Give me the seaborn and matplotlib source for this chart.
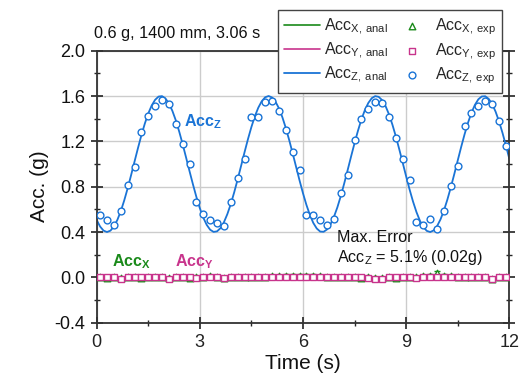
import matplotlib
matplotlib.use("Agg")
import matplotlib.pyplot as plt
import seaborn as sns
import pandas as pd

t_anal = [round(0.1 * i, 1) for i in range(121)]
acc_z_anal = [0.506, 0.448, 0.412, 0.400, 0.412, 0.448, 0.506, 0.583, 0.678, 0.785,
              0.901, 1.021, 1.140, 1.254, 1.357, 1.446, 1.517, 1.567, 1.595, 1.599,
              1.578, 1.535, 1.470, 1.386, 1.286, 1.175, 1.057, 0.937, 0.820, 0.709,
              0.610, 0.527, 0.463, 0.420, 0.401, 0.406, 0.434, 0.486, 0.558, 0.647,
              0.751, 0.865, 0.984, 1.104, 1.220, 1.327, 1.421, 1.497, 1.554, 1.589,
              1.600, 1.587, 1.550, 1.492, 1.413, 1.318, 1.210, 1.094, 0.974, 0.855,
              0.742, 0.639, 0.551, 0.480, 0.431, 0.404, 0.402, 0.423, 0.468, 0.534,
              0.618, 0.718, 0.830, 0.948, 1.068, 1.185, 1.295, 1.394, 1.476, 1.539,
              1.581, 1.599, 1.593, 1.564, 1.512, 1.439, 1.348, 1.244, 1.130, 1.011,
              0.891, 0.775, 0.669, 0.576, 0.500, 0.444, 0.410, 0.400, 0.414, 0.452,
              0.512, 0.591, 0.687, 0.795, 0.911, 1.031, 1.150, 1.263, 1.365, 1.453,
              1.522, 1.571, 1.596, 1.598, 1.575, 1.530, 1.463, 1.378, 1.277, 1.165,
              1.047]
acc_x_anal = [0.0] * 121
acc_y_anal = [0.0] * 121

# experimental points every 0.2 s
t_exp = [round(0.1 + 0.2 * i, 1) for i in range(60)]
acc_z_exp = [0.547, 0.506, 0.459, 0.589, 0.812, 0.977, 1.283, 1.424, 1.513, 1.568,
             1.527, 1.357, 1.177, 0.997, 0.662, 0.559, 0.503, 0.483, 0.450, 0.662,
             0.877, 1.048, 1.418, 1.418, 1.548, 1.560, 1.469, 1.297, 1.107, 0.944,
             0.553, 0.553, 0.506, 0.459, 0.512, 0.748, 0.900, 1.213, 1.401, 1.486,
             1.548, 1.542, 1.416, 1.230, 1.042, 0.856, 0.489, 0.465, 0.512, 0.430,
             0.589, 0.803, 0.980, 1.339, 1.451, 1.513, 1.560, 1.527, 1.380, 1.160]
acc_x_exp = [0.000, -0.005, 0.000, -0.010, 0.005, 0.000, -0.005, 0.000, 0.005, 0.000,
             -0.010, 0.000, 0.005, -0.005, 0.000, 0.005, 0.010, 0.000, -0.005, 0.000,
             0.005, 0.000, 0.000, 0.005, 0.000, 0.010, 0.010, 0.015, 0.015, 0.015,
             0.015, 0.015, 0.010, 0.005, 0.000, 0.000, 0.005, 0.000, -0.005, 0.000,
             -0.010, -0.010, 0.000, -0.005, 0.000, 0.005, 0.000, 0.010, 0.015, 0.040,
             0.015, 0.010, 0.005, 0.000, 0.005, 0.000, 0.000, -0.015, 0.000, 0.005]
acc_y_exp = [0.000, 0.000, 0.000, -0.015, 0.000, 0.005, 0.000, 0.000, 0.000, 0.000,
             -0.015, 0.000, 0.005, 0.000, -0.005, 0.005, 0.005, 0.000, -0.005, 0.000,
             0.000, 0.000, 0.000, 0.005, 0.000, 0.000, 0.000, 0.005, 0.000, 0.000,
             0.005, 0.000, 0.000, 0.000, 0.000, 0.000, 0.000, 0.000, 0.000, -0.005,
             -0.015, -0.015, 0.000, 0.000, 0.000, 0.000, -0.005, 0.000, 0.005, 0.005,
             0.005, 0.000, 0.005, 0.000, 0.000, 0.000, 0.000, -0.015, 0.000, 0.005]

GREEN = "#1a8a1a"
MAGENTA = "#c8348c"
BLUE = "#1a74d6"

sns.set_theme(style="ticks")
plt.rcParams["font.family"] = ["Liberation Sans", "DejaVu Sans"]
plt.rcParams["mathtext.fontset"] = "custom"
plt.rcParams["mathtext.rm"] = "Liberation Sans"
plt.rcParams["mathtext.bf"] = "Liberation Sans:bold"

anal = pd.DataFrame({"t": t_anal, "x": acc_x_anal, "y": acc_y_anal, "z": acc_z_anal})
exp = pd.DataFrame({"t": t_exp, "x": acc_x_exp, "y": acc_y_exp, "z": acc_z_exp})

fig = plt.figure(figsize=(5.19, 3.76), dpi=100)
ax = fig.add_axes([0.1863, 0.1418, 0.795, 0.7234])

ax.grid(True, color="#cccccc", linewidth=1.0)
ax.set_axisbelow(True)

sns.lineplot(data=anal, x="t", y="x", color=GREEN, lw=1.2, ax=ax,
             label=r"Acc$_{\mathrm{X,\,anal}}$")
sns.lineplot(data=anal, x="t", y="y", color=MAGENTA, lw=1.2, ax=ax,
             label=r"Acc$_{\mathrm{Y,\,anal}}$")
sns.lineplot(data=anal, x="t", y="z", color=BLUE, lw=1.3, ax=ax,
             label=r"Acc$_{\mathrm{Z,\,anal}}$")

for col, c in (("x", GREEN), ("y", MAGENTA), ("z", BLUE)):
    ax.errorbar(exp["t"], exp[col], yerr=0.012, fmt="none", ecolor=c,
                elinewidth=0.8, capsize=2.5, capthick=1.0, zorder=3)

sns.scatterplot(data=exp, x="t", y="x", marker="^", s=22, facecolor="white",
                edgecolor=GREEN, linewidth=1.0, ax=ax, zorder=4,
                label=r"Acc$_{\mathrm{X,\,exp}}$")
sns.scatterplot(data=exp, x="t", y="y", marker="s", s=20, facecolor="white",
                edgecolor=MAGENTA, linewidth=1.0, ax=ax, zorder=4,
                label=r"Acc$_{\mathrm{Y,\,exp}}$")
sns.scatterplot(data=exp, x="t", y="z", marker="o", s=24, facecolor="white",
                edgecolor=BLUE, linewidth=1.0, ax=ax, zorder=5,
                label=r"Acc$_{\mathrm{Z,\,exp}}$")

ax.set_xlim(0, 12)
ax.set_ylim(-0.4, 2.0)
ax.set_xticks([0, 3, 6, 9, 12])
ax.set_xticks([1.5, 4.5, 7.5, 10.5], minor=True)
ax.set_yticks([-0.4, 0.0, 0.4, 0.8, 1.2, 1.6, 2.0])
ax.set_yticks([-0.2, 0.2, 0.6, 1.0, 1.4, 1.8], minor=True)
ax.set_yticklabels(["-0.4", "0.0", "0.4", "0.8", "1.2", "1.6", "2.0"])
ax.tick_params(which="major", direction="inout", length=9, width=1.2,
               labelsize=13, colors="#222222", right=True)
ax.tick_params(which="minor", direction="inout", length=5, width=1.0, right=True)
ax.tick_params(axis="y", which="both", labelcolor="#111111")
ax.grid(False, which="minor")
for s in ax.spines.values():
    s.set_color("#333333")
    s.set_linewidth(1.3)

ax.set_xlabel("Time (s)", fontsize=15, labelpad=2, color="#111111")
ax.set_ylabel("Acc. (g)", fontsize=15, labelpad=4, color="#111111")

ax.text(2.55, 1.33, r"Acc$_{\mathbf{Z}}$", color=BLUE, fontsize=11.5,
        fontweight="bold")
ax.text(0.45, 0.10, r"Acc$_{\mathbf{X}}$", color=GREEN, fontsize=11.5,
        fontweight="bold")
ax.text(2.28, 0.10, r"Acc$_{\mathbf{Y}}$", color=MAGENTA, fontsize=11.5,
        fontweight="bold")
ax.text(7.0, 0.095, "Max. Error\n" + r"Acc$_{\mathrm{Z}}$ = 5.1% (0.02g)",
        fontsize=11.6, color="#111111", linespacing=1.15, va="bottom")

fig.text(94 / 519, 0.898, "0.6 g, 1400 mm, 3.06 s", fontsize=11.7,
         color="#111111", va="baseline")

leg = ax.legend(ncol=2, loc="upper left", bbox_to_anchor=(278 / 519, 1 - 10 / 376),
                bbox_transform=fig.transFigure, borderaxespad=0, fontsize=11.5,
                frameon=True, fancybox=False, framealpha=1, edgecolor="#444444",
                handlelength=2.2, labelspacing=0.25, columnspacing=0.4,
                handletextpad=0.3, borderpad=0.4)
leg.get_frame().set_linewidth(1.0)
leg.set_zorder(10)

fig.savefig("out.png", dpi=100)
